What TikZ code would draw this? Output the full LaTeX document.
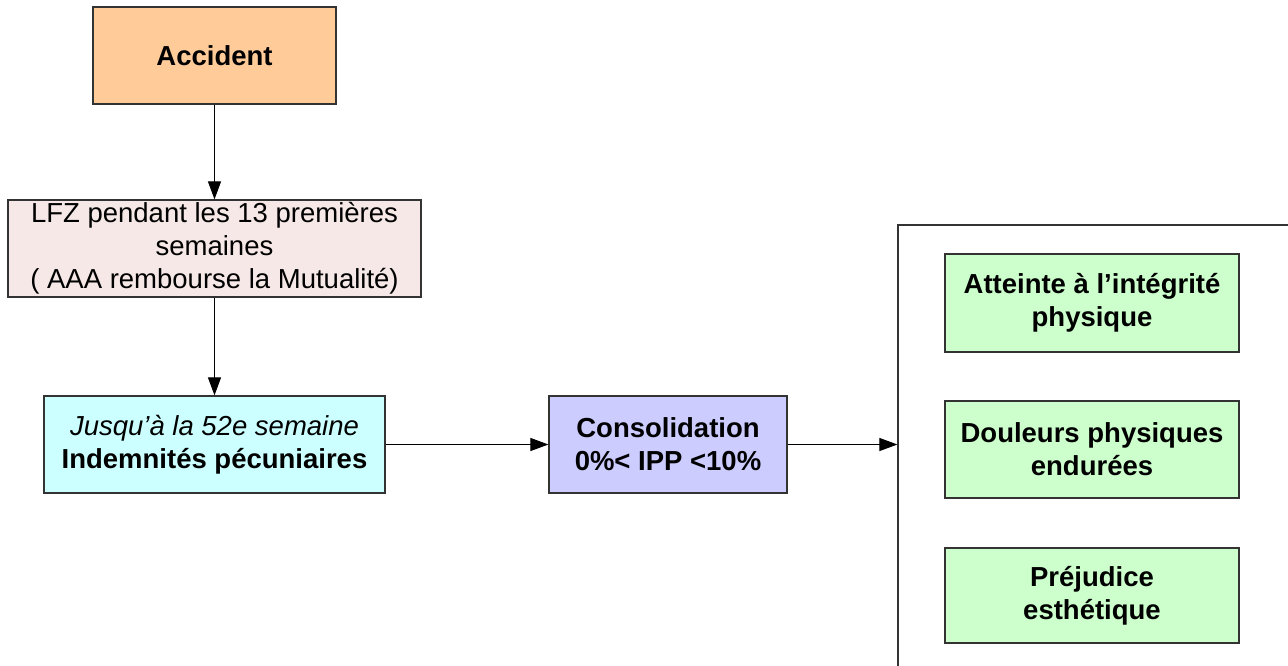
\documentclass[tikz,border=0pt]{standalone}
\usepackage{fontspec}
\setmainfont{Liberation Sans}
\usetikzlibrary{arrows.meta}
\definecolor{cAcc}{HTML}{FFCC99}
\definecolor{cLfz}{HTML}{F5E8E6}
\definecolor{cInd}{HTML}{CCFFFF}
\definecolor{cCon}{HTML}{CCCCFF}
\definecolor{cGrn}{HTML}{CCFFCC}
\definecolor{cBrd}{HTML}{333333}
\tikzset{
  box/.style={draw=cBrd, line width=1.2pt, align=center, inner sep=0pt,
    font=\fontsize{27.5}{33}\selectfont, text=black},
  conn/.style={draw=black, line width=1pt, -{Triangle[length=18pt,width=13pt]}},
}
\begin{document}
\begin{tikzpicture}[x=1pt,y=-1pt]
\useasboundingbox (0,0) rectangle (1288,666);
\clip (0,0) rectangle (1288,666);
\fill[white] (0,0) rectangle (1288,666);
\node[box, fill=cAcc, minimum width=243pt, minimum height=97pt] (acc) at (214.5,55.5) {\bfseries Accident};
\node[box, fill=cLfz, minimum width=413pt, minimum height=97pt] (lfz) at (214.5,248.5) {LFZ pendant les 13 premières\\semaines\\( AAA rembourse la Mutualité)};
\node[box, fill=cInd, minimum width=341pt, minimum height=97pt] (ind) at (214.5,444.5) {\itshape Jusqu’à la 52e semaine\\\bfseries Indemnités pécuniaires};
\node[box, fill=cCon, minimum width=238pt, minimum height=97pt] (con) at (668,444.5) {\bfseries Consolidation\\\bfseries 0\%< IPP <10\%};
\node[draw=cBrd, line width=1.2pt, minimum width=502pt, minimum height=575pt, inner sep=0pt] (big) at (1149,512.5) {};
\node[box, fill=cGrn, minimum width=294pt, minimum height=98pt] (g1) at (1092,303) {\bfseries Atteinte à l’intégrité\\\bfseries physique};
\node[box, fill=cGrn, minimum width=294pt, minimum height=97pt] (g2) at (1092,449.5) {\bfseries Douleurs physiques\\\bfseries endurées};
\node[box, fill=cGrn, minimum width=294pt, minimum height=95pt] (g3) at (1092,595.5) {\bfseries Préjudice\\\bfseries esthétique};
\draw[conn] (acc) -- (lfz);
\draw[conn] (lfz) -- (ind);
\draw[conn] (ind) -- (con);
\draw[conn] (con.east) -- (con.east -| big.west);
\end{tikzpicture}
\end{document}
